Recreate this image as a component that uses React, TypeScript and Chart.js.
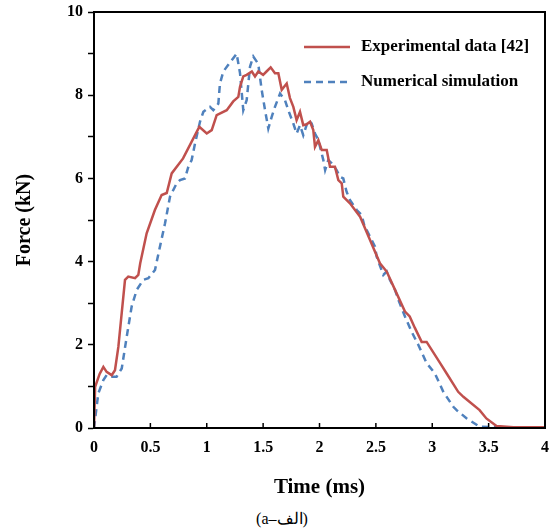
import React, { useEffect, useRef } from "react";
import { Chart, registerables } from "chart.js";

Chart.register(...registerables);

const expTime = [0, 0.01, 0.05, 0.083, 0.112, 0.157, 0.186, 0.216, 0.275, 0.304, 0.364, 0.393, 0.41, 0.467, 0.54, 0.6, 0.645, 0.689, 0.79, 0.934, 1.0, 1.044, 1.088, 1.177, 1.235, 1.28, 1.295, 1.324, 1.354, 1.4, 1.428, 1.457, 1.5, 1.53, 1.567, 1.605, 1.635, 1.665, 1.709, 1.738, 1.768, 1.797, 1.827, 1.856, 1.886, 1.916, 1.945, 1.96, 1.99, 2.02, 2.064, 2.093, 2.137, 2.167, 2.197, 2.211, 2.27, 2.36, 2.448, 2.536, 2.596, 2.67, 2.758, 2.8, 2.847, 2.89, 2.906, 2.95, 3.07, 3.128, 3.23, 3.276, 3.42, 3.48, 3.57, 3.72, 4.0];
const expForce = [0, 0.99, 1.3, 1.47, 1.35, 1.27, 1.39, 1.95, 3.56, 3.64, 3.6, 3.68, 3.96, 4.68, 5.24, 5.6, 5.65, 6.12, 6.48, 7.24, 7.08, 7.16, 7.52, 7.64, 7.85, 7.96, 8.2, 8.45, 8.49, 8.57, 8.45, 8.57, 8.49, 8.57, 8.67, 8.53, 8.53, 8.13, 8.28, 7.93, 7.72, 7.4, 7.6, 7.28, 7.3, 7.36, 7.16, 6.76, 6.92, 6.68, 6.68, 6.28, 6.28, 5.96, 5.88, 5.56, 5.4, 5.08, 4.52, 3.96, 3.76, 3.32, 2.8, 2.68, 2.4, 2.16, 2.07, 2.07, 1.56, 1.31, 0.87, 0.75, 0.43, 0.23, 0.05, 0.02, 0.02];

const numTime = [0, 0.038, 0.083, 0.112, 0.142, 0.2, 0.246, 0.29, 0.334, 0.379, 0.437, 0.482, 0.541, 0.585, 0.63, 0.674, 0.733, 0.763, 0.807, 0.837, 0.866, 0.896, 0.94, 0.97, 1.029, 1.058, 1.103, 1.117, 1.147, 1.191, 1.235, 1.265, 1.295, 1.324, 1.354, 1.384, 1.413, 1.457, 1.487, 1.517, 1.546, 1.576, 1.605, 1.65, 1.694, 1.723, 1.768, 1.797, 1.827, 1.856, 1.9, 1.93, 1.96, 1.99, 2.034, 2.05, 2.078, 2.108, 2.152, 2.18, 2.211, 2.24, 2.27, 2.33, 2.374, 2.404, 2.418, 2.492, 2.507, 2.566, 2.596, 2.625, 2.67, 2.7, 2.758, 2.818, 2.876, 2.95, 3.024, 3.098, 3.187, 3.216, 3.306, 3.42, 3.57];
const numForce = [0, 0.83, 1.15, 1.27, 1.23, 1.23, 1.43, 2.19, 2.92, 3.32, 3.56, 3.6, 3.8, 4.36, 4.92, 5.56, 5.88, 5.96, 6.0, 6.28, 6.44, 6.84, 7.36, 7.6, 7.72, 7.64, 7.8, 8.28, 8.57, 8.73, 8.89, 9.0, 8.53, 7.64, 7.88, 8.69, 8.93, 8.75, 8.13, 7.64, 7.2, 7.48, 7.72, 8.04, 7.88, 7.64, 7.32, 7.08, 7.28, 7.04, 7.4, 7.32, 7.08, 6.92, 6.44, 6.2, 6.44, 6.36, 6.2, 6.04, 6.0, 5.68, 5.48, 5.24, 5.12, 4.8, 4.76, 4.36, 4.12, 3.68, 3.76, 3.56, 3.32, 3.08, 2.68, 2.31, 2.0, 1.56, 1.31, 0.87, 0.51, 0.43, 0.23, 0.03, 0.02];

const seriesNames = ["Experimental data [42]", "Numerical simulation"];
const xTitle = "Time (ms)";
const yTitle = "Force (kN)";
const caption = "(a–الف)";

const RED = "#C0504D";
const BLUE = "#4F81BD";
const SERIF = "'Liberation Serif', 'Times New Roman', serif";

const framePlugin = {
  id: "frame",
  afterDraw(chart: any) {
    const { ctx, chartArea } = chart;
    const xs = chart.scales.x;
    ctx.save();
    ctx.strokeStyle = "#000";
    ctx.lineWidth = 2;
    ctx.strokeRect(chartArea.left, chartArea.top, chartArea.right - chartArea.left, chartArea.bottom - chartArea.top);
    ctx.lineWidth = 1.5;
    xs.ticks.forEach((t: any) => {
      const px = xs.getPixelForValue(t.value);
      ctx.beginPath();
      ctx.moveTo(px, chartArea.bottom);
      ctx.lineTo(px, chartArea.bottom - 5);
      ctx.stroke();
    });
    // legend
    const lx = chartArea.left + 210;
    const rows = [chartArea.top + 35, chartArea.top + 70];
    chart.data.datasets.forEach((ds: any, i: number) => {
      const y = rows[i];
      ctx.beginPath();
      ctx.strokeStyle = ds.borderColor;
      ctx.lineWidth = 2.5;
      ctx.setLineDash(ds.borderDash || []);
      ctx.moveTo(lx, y);
      ctx.lineTo(lx + 46, y);
      ctx.stroke();
      ctx.setLineDash([]);
      ctx.fillStyle = "#000";
      ctx.font = `bold 17px ${SERIF}`;
      ctx.textBaseline = "middle";
      ctx.textAlign = "left";
      ctx.fillText(ds.label, lx + 57, y);
    });
    ctx.restore();
  },
};

export default function App() {
  const ref = useRef<HTMLCanvasElement | null>(null);
  useEffect(() => {
    document.body.style.margin = "0";
    if (!ref.current) return;
    const chart = new Chart(ref.current, {
      type: "scatter",
      data: {
        datasets: [
          {
            label: seriesNames[0],
            data: expTime.map((t, i) => ({ x: t, y: expForce[i] })),
            showLine: true,
            borderColor: RED,
            backgroundColor: RED,
            borderWidth: 2.5,
            pointRadius: 0,
            tension: 0,
          },
          {
            label: seriesNames[1],
            data: numTime.map((t, i) => ({ x: t, y: numForce[i] })),
            showLine: true,
            borderColor: BLUE,
            backgroundColor: BLUE,
            borderWidth: 2.5,
            borderDash: [7, 5],
            pointRadius: 0,
            tension: 0,
          },
        ],
      },
      options: {
        animation: false,
        responsive: false,
        layout: { padding: { left: 0, right: 7, top: 12, bottom: 0 } },
        plugins: { legend: { display: false }, tooltip: { enabled: false } },
        scales: {
          x: {
            type: "linear",
            min: 0,
            max: 4,
            ticks: {
              stepSize: 0.5,
              color: "#000",
              font: { family: SERIF, size: 16, weight: "bold" },
              padding: 10,
              maxRotation: 0,
              callback: (v: any) => String(Number(v)),
            },
            grid: { display: true, drawOnChartArea: false, drawTicks: false },
            border: { display: true, color: "#000", width: 2 },
            title: {
              display: true,
              text: xTitle,
              color: "#000",
              font: { family: SERIF, size: 21, weight: "bold" },
              padding: { top: 0, bottom: 0 },
            },
            afterFit(scale: any) {
              scale.height = 72;
              scale.paddingLeft = 0;
              scale.paddingRight = 0;
            },
          },
          y: {
            type: "linear",
            min: 0,
            max: 10,
            ticks: {
              stepSize: 1,
              color: "#000",
              font: { family: SERIF, size: 16, weight: "bold" },
              padding: 5,
              callback: (v: any) => (Number(v) % 2 === 0 ? String(v) : ""),
            },
            grid: { display: true, drawOnChartArea: false, drawTicks: true, tickLength: 6, tickColor: "#000", tickWidth: 1.5 },
            border: { display: true, color: "#000", width: 2 },
            title: {
              display: true,
              text: yTitle,
              color: "#000",
              font: { family: SERIF, size: 20, weight: "bold" },
              padding: { top: 13, bottom: 0 },
            },
            afterFit(scale: any) {
              scale.width = 94;
              scale.paddingTop = 0;
              scale.paddingBottom = 0;
            },
          },
        },
      },
      plugins: [framePlugin],
    });
    return () => chart.destroy();
  }, []);
  return (
    <div style={{ width: 552, height: 531, position: "relative" }}>
      <canvas ref={ref} width={552} height={500} style={{ display: "block", width: 552, height: 500 }} />
      <div
        dir="ltr"
        style={{
          height: 31,
          lineHeight: "31px",
          textAlign: "center",
          fontFamily: SERIF,
          fontSize: 16,
          color: "#000",
          marginTop: 3,
          paddingLeft: 12,
        }}
      >
        {caption}
      </div>
    </div>
  );
}
